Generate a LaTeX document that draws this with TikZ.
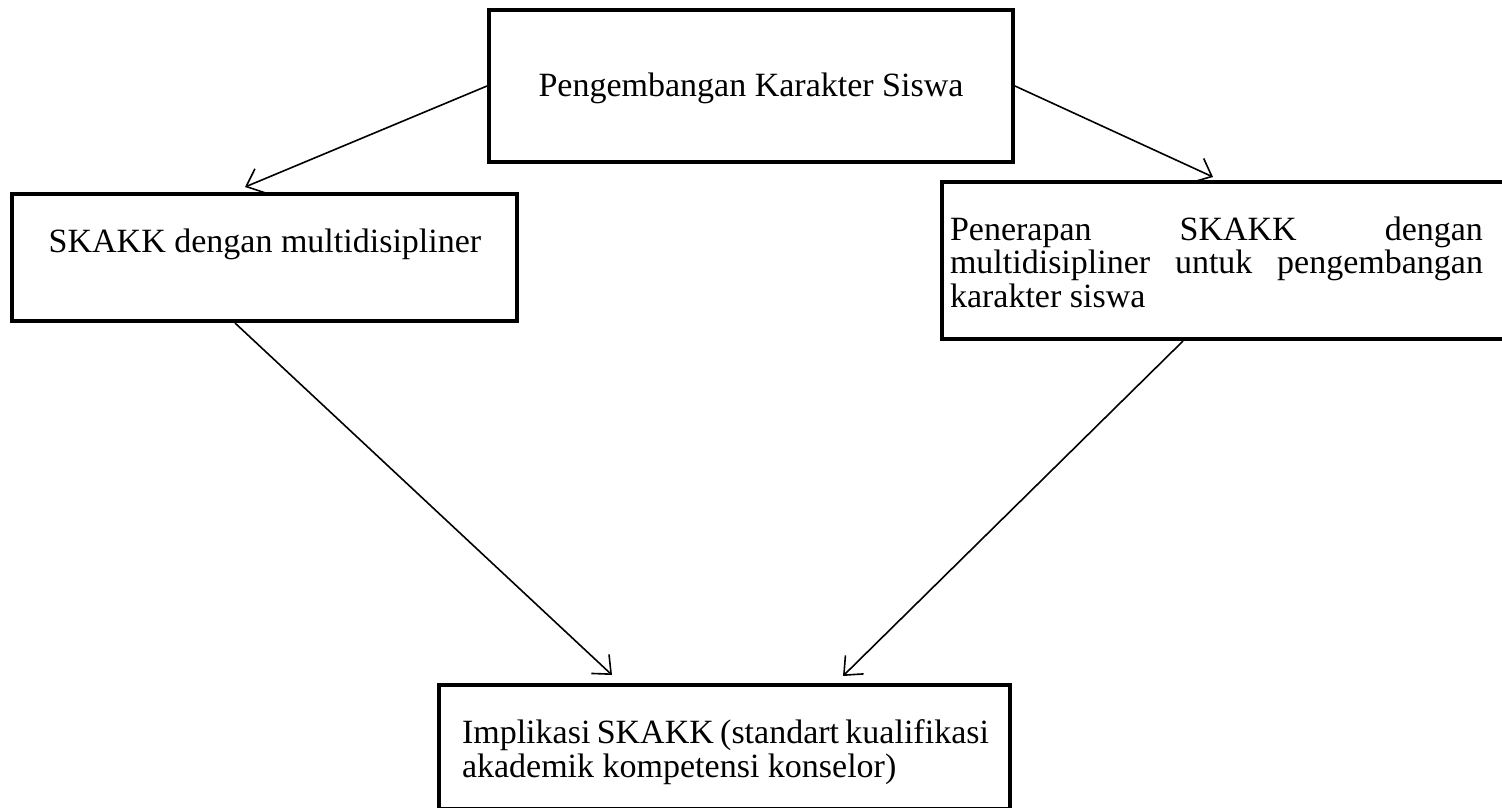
\documentclass[tikz,border=0pt]{standalone}
\usepackage{fontspec}
\setmainfont{Liberation Serif}
\usetikzlibrary{arrows.meta}
\begin{document}
\begin{tikzpicture}[x=1pt,y=-1pt,
  boxstyle/.style={draw,line width=4pt,inner sep=0pt,rectangle},
  txt/.style={inner sep=0pt,font=\fontsize{34pt}{33.5pt}\selectfont},
  conn/.style={line width=1.6pt,-{Straight Barb[length=15pt,width=26pt,line width=1.6pt]}}]
\useasboundingbox (0,0) rectangle (1502,807);
% boxes
\node[boxstyle,minimum width=524pt,minimum height=152pt] (top) at (751,86) {};
\node[boxstyle,minimum width=505pt,minimum height=127pt] (left) at (264.5,257.5) {};
\node[boxstyle,minimum width=563pt,minimum height=157pt] (right) at (1223.5,260.5) {};
\node[boxstyle,minimum width=571pt,minimum height=124pt] (bottom) at (724.5,747) {};
% texts
\node[txt] (ttop) at (751,88) {Pengembangan Karakter Siswa};
\node[txt] (tleft) at (265,244) {SKAKK dengan multidisipliner};
\node[txt] (tright) at (1216.5,262) {\vbox{%
\hbox to 533pt{Penerapan\hfill SKAKK\hfill dengan}
\hbox to 533pt{multidisipliner\hfill untuk\hfill pengembangan}
\hbox to 533pt{karakter siswa\hfill}}};
\node[txt] (tbottom) at (725.5,752) {\vbox{%
\hbox to 527pt{Implikasi\hfill SKAKK\hfill (standart\hfill kualifikasi}
\hbox to 527pt{akademik kompetensi konselor)\hfill}}};
% connector ends
\coordinate (e1) at (245,187);
\coordinate (e2) at (1213,177);
\coordinate (e3) at (612,675);
\coordinate (e4) at (843,676);
\draw[conn] (top.west) -- (e1);
\draw[conn] (top.east) -- (e2);
\draw[conn] ([xshift=-29.5pt]left.south) -- (e3);
\draw[conn] ([xshift=-40.5pt]right.south) -- (e4);
\end{tikzpicture}
\end{document}
